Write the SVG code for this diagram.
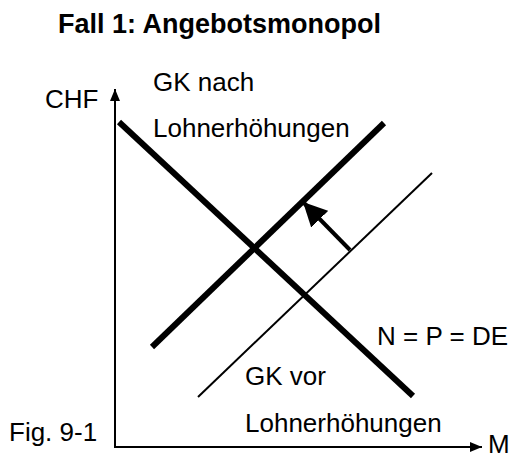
<svg xmlns="http://www.w3.org/2000/svg" width="513" height="459" viewBox="0 0 513 459">
<defs>
<style>
text{font-family:"Liberation Sans",Arial,sans-serif;font-size:26px;fill:#000}
.title{font-weight:bold;font-size:27px}
.thick{stroke:#000;stroke-width:6;fill:none}
.thin{stroke:#000;stroke-width:2;fill:none}
.axis{stroke:#000;stroke-width:2;fill:none}
</style>
<marker id="ah" viewBox="0 0 12 10" refX="12" refY="5" markerWidth="12" markerHeight="10" markerUnits="userSpaceOnUse" orient="auto">
<path d="M0,0 L12,5 L0,10 z" fill="#000"/>
</marker>
<marker id="shift" viewBox="0 0 10 10" refX="10" refY="5" markerWidth="6" markerHeight="6" orient="auto">
<path d="M0,0 L10,5 L0,10 z" fill="#000"/>
</marker>
</defs>
<rect width="513" height="459" fill="#fff"/>
<text class="title" x="58" y="33">Fall 1: Angebotsmonopol</text>
<g id="axes">
<line class="axis" x1="115" y1="448" x2="115" y2="89" marker-end="url(#ah)"/>
<line class="axis" x1="114" y1="447" x2="482" y2="447" marker-end="url(#ah)"/>
<text x="45" y="108">CHF</text>
<text x="488" y="453">M</text>
<text x="9" y="441">Fig. 9-1</text>
</g>
<g id="demand">
<line class="thick" x1="119" y1="122" x2="413" y2="396"/>
<text x="377" y="345">N = P = DE</text>
</g>
<g id="gk-nach">
<line class="thick" x1="152" y1="347" x2="384" y2="123"/>
<text x="153" y="91">GK nach</text>
<text x="153" y="137">Lohnerhöhungen</text>
</g>
<g id="gk-vor">
<line class="thin" x1="198" y1="397" x2="432" y2="173"/>
<text x="245" y="385">GK vor</text>
<text x="245" y="432">Lohnerhöhungen</text>
</g>
<g id="connectors">
<line stroke="#000" stroke-width="4" x1="350" y1="250" x2="303" y2="202" marker-end="url(#shift)"/>
</g>
</svg>
